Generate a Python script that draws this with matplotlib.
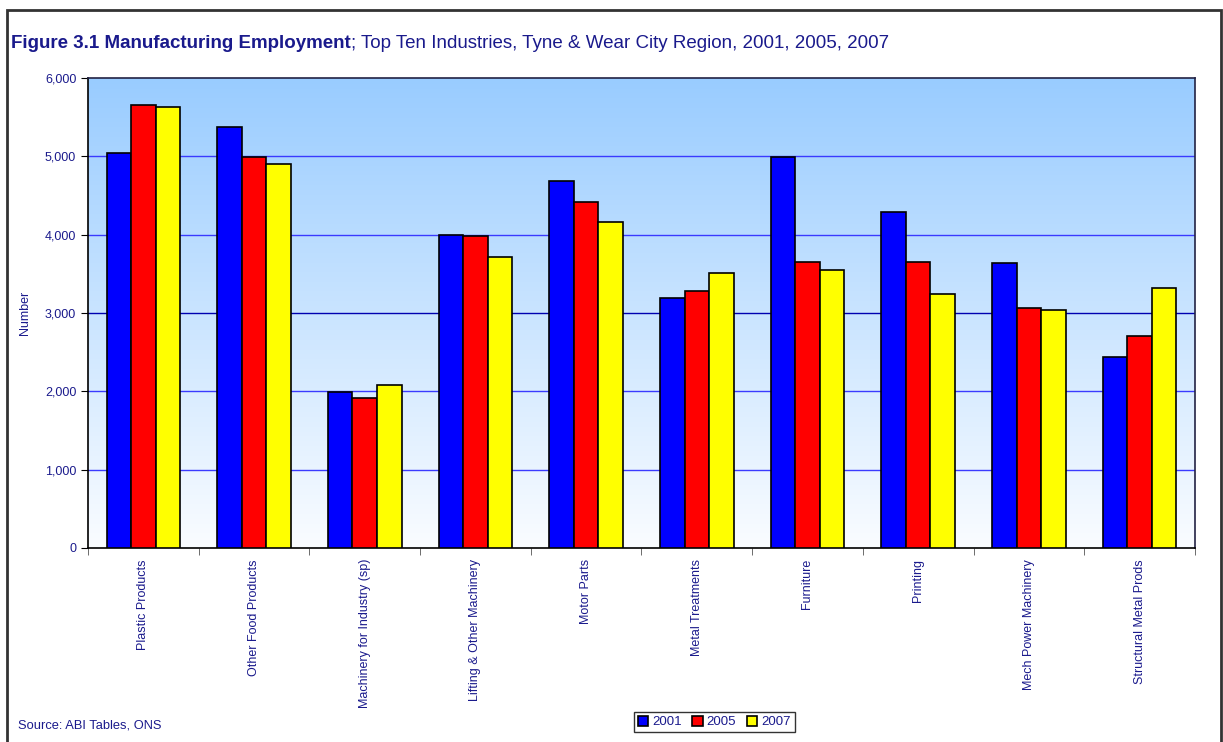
import numpy as np
import matplotlib.pyplot as plt
from matplotlib.patches import Rectangle
from matplotlib.ticker import FuncFormatter

# Employment by industry
industries = ['Plastic Products', 'Other Food Products', 'Machinery for Industry (sp)',
              'Lifting & Other Machinery', 'Motor Parts', 'Metal Treatments', 'Furniture',
              'Printing', 'Mech Power Machinery', 'Structural Metal Prods']
emp_2001 = [5040, 5370, 1990, 4000, 4690, 3190, 4990, 4290, 3640, 2440]
emp_2005 = [5660, 4990, 1915, 3985, 4415, 3285, 3655, 3655, 3065, 2710]
emp_2007 = [5630, 4900, 2080, 3720, 4165, 3515, 3550, 3245, 3035, 3320]
years = ['2001', '2005', '2007']

navy = '#1a1a8c'
plt.rcParams['font.family'] = ['Liberation Sans', 'DejaVu Sans']

fig = plt.figure(figsize=(12.23, 7.42), dpi=100)
fig.patches.append(Rectangle((0.006, -0.01), 0.992, 0.997, transform=fig.transFigure,
                             fill=False, edgecolor='#333333', linewidth=2))

ax = fig.add_axes([0.072, 0.2615, 0.905, 0.6334])
n = len(industries)
x = np.arange(n)
w = 1 / 4.5

# gradient background, light blue at top fading to white
grad = np.linspace(0, 1, 256).reshape(-1, 1)
top = np.array([0.60, 0.80, 1.0])
bottom = np.array([0.98, 0.99, 1.0])
img = bottom + (top - bottom) * grad[..., None]
ax.imshow(img, aspect='auto', extent=(-0.5, n - 0.5, 0, 6000), origin='lower', zorder=0)

for v in [1000, 2000, 4000, 5000]:
    ax.axhline(v, color='#3a3aff', linewidth=1, zorder=1)
ax.axhline(3000, color='#0000b0', linewidth=1, zorder=1)

colors = ['#0000ff', '#ff0000', '#ffff00']
for i, (vals, c) in enumerate(zip([emp_2001, emp_2005, emp_2007], colors)):
    ax.bar(x + (i - 1) * w, vals, width=w, color=c, edgecolor='black', linewidth=1.2,
           label=years[i], zorder=3)

ax.set_xlim(-0.5, n - 0.5)
ax.set_ylim(0, 6000)
ax.set_yticks(range(0, 6001, 1000))
ax.yaxis.set_major_formatter(FuncFormatter(lambda v, p: f'{int(v):,}'))
ax.set_xticks(x)
ax.set_xticklabels(industries, rotation=90, color=navy, fontsize=9)
ax.set_xticks(np.arange(-0.5, n, 1), minor=True)
ax.tick_params(axis='x', which='major', length=0, pad=8)
ax.tick_params(axis='x', which='minor', length=5, color='#555555', direction='out')
ax.tick_params(axis='y', length=5, colors='black', labelcolor=navy, labelsize=9)
ax.set_ylabel('Number', color=navy, fontsize=9)
ax.yaxis.set_label_coords(-0.052, 0.5)

for s in ['left', 'bottom']:
    ax.spines[s].set_color('black')
    ax.spines[s].set_linewidth(1.2)
for s in ['top', 'right']:
    ax.spines[s].set_color('#222244')
    ax.spines[s].set_linewidth(1.2)

t1 = fig.text(0.009, 0.935, 'Figure 3.1 Manufacturing Employment', fontsize=13.5,
              fontweight='bold', color=navy, va='baseline')
ax.annotate('; Top Ten Industries, Tyne & Wear City Region, 2001, 2005, 2007',
            xy=(1, 0), xycoords=t1, fontsize=13.5, color=navy, va='bottom',
            annotation_clip=False)

fig.text(0.015, 0.018, 'Source: ABI Tables, ONS', fontsize=9.3, color=navy)

leg = fig.legend(loc='lower center', bbox_to_anchor=(0.584, 0.004), ncol=3, frameon=True,
                 fancybox=False, edgecolor='black', fontsize=9.5, handlelength=0.8,
                 handleheight=0.8, handletextpad=0.3, columnspacing=0.8, borderpad=0.3)
leg.get_frame().set_linewidth(1.0)
for t in leg.get_texts():
    t.set_color(navy)

fig.savefig('out.png', dpi=100)
plt.close()
